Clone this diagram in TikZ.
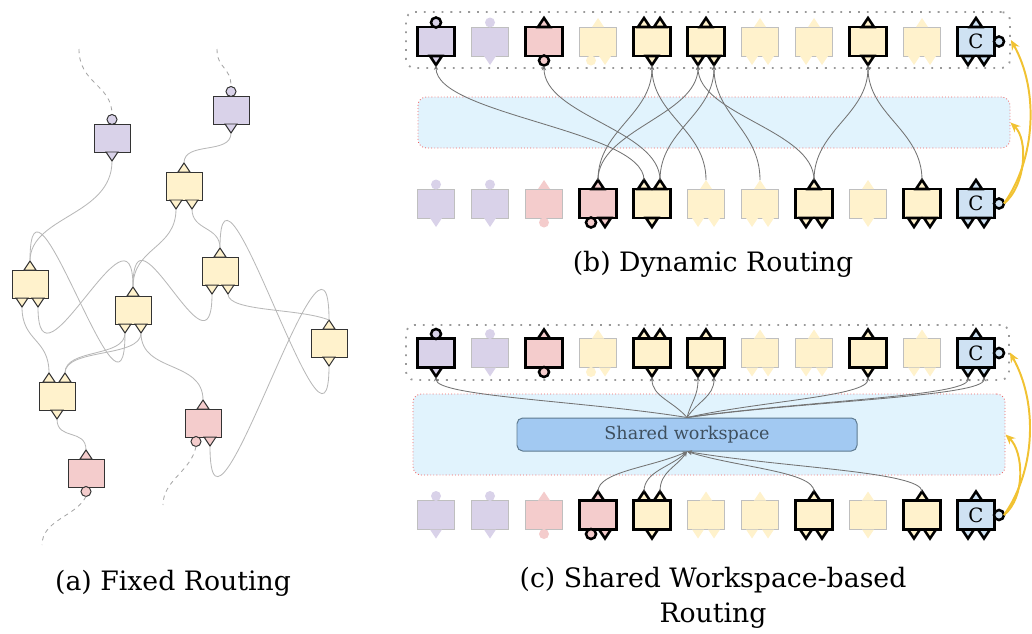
\documentclass[tikz,border=0pt]{standalone}
\usepackage{fontspec}
\setmainfont{DejaVu Serif}
\usetikzlibrary{arrows.meta,calc,positioning}

\definecolor{pur}{HTML}{D9D2E9}
\definecolor{pnk}{HTML}{F4CCCC}
\definecolor{ylw}{HTML}{FFF2CC}
\definecolor{cbl}{HTML}{CFE2F3}
\definecolor{sky}{HTML}{E1F3FD}
\definecolor{wsfill}{HTML}{A2C9F2}
\definecolor{wsline}{HTML}{5E7A90}
\definecolor{wstext}{HTML}{3E4F5E}
\definecolor{gold}{HTML}{F1C232}
\definecolor{redot}{HTML}{F06060}

\def\px{0.025cm} % one pixel of the layout

\tikzset{
blk/.style={inner sep=0pt, outer sep=0pt},
lkthin/.style={draw=black!80, line width=0.7pt, minimum width=36*\px, minimum height=28*\px},
lkthin port/.style={draw=black!80, line width=0.7pt},
lkbold/.style={draw=black, line width=1.8pt, minimum width=37*\px, minimum height=29*\px},
lkbold port/.style={draw=black, line width=1.8pt},
lkfade/.style={draw=black!25, line width=0.7pt, minimum width=37*\px, minimum height=29*\px},
lkfade port/.style={draw=none},
wire/.style={draw=black!28, line width=0.6pt},
tail/.style={draw=black!35, dashed, line width=0.6pt},
bedge/.style={draw=black!55, line width=0.6pt, -{Stealth[length=3.5pt,width=3pt]}},
gtray/.style={draw=black!40, line width=1.3pt, dash pattern=on 1.3pt off 5pt, rounded corners=6pt, inner sep=0pt},
skybox/.style={fill=sky, draw=redot, line width=0.6pt, dash pattern=on 0.6pt off 1.6pt, rounded corners=6pt, inner sep=0pt},
wsbox/.style={fill=wsfill, draw=wsline, line width=0.7pt, rounded corners=4pt, text=wstext, font=\fontsize{12.5}{14}\selectfont},
garrow/.style={draw=gold, line width=1.4pt, -{Stealth[length=7pt,width=6pt]}},
ctext/.style={font=\fontsize{14}{14}\selectfont},
captext/.style={font=\fontsize{19}{25}\selectfont}
}

% ports: block, shift, name
\newcommand\portup[3]{\draw[port] ($(#1.north)+(#2,0)$) ++(-6,0) -- ++(6,-9) coordinate (#3) -- ++(6,9) -- cycle;}
\newcommand\portdn[3]{\draw[port] ($(#1.south)+(#2,0)$) ++(-6,0) -- ++(6,9) coordinate (#3) -- ++(6,-9) -- cycle;}
\newcommand\portcu[3]{\path ($(#1.north)+(#2,-4.5)$) coordinate (#3c) ++(0,-5) coordinate (#3);
  \draw[port] (#3c) circle[radius=5];}
\newcommand\portcd[3]{\path ($(#1.south)+(#2,4.5)$) coordinate (#3c) ++(0,5) coordinate (#3);
  \draw[port] (#3c) circle[radius=5];}
\newcommand\portcr[2]{\path ($(#1.east)+(4.5,0)$) coordinate (#2c) ++(5,0) coordinate (#2);
  \draw[port] (#2c) circle[radius=5];}

% kinds of module
\newcommand\kindcu[1]{\portcu{#1}{0}{#1-i1}\portdn{#1}{0}{#1-o1}}
\newcommand\kindpk[1]{\portup{#1}{0}{#1-i1}\portcd{#1}{0}{#1-o1}}
\newcommand\kindpc[1]{\portup{#1}{0}{#1-i1}\portcd{#1}{-7}{#1-o1}\portdn{#1}{7}{#1-o2}}
\newcommand\kindyd[1]{\portup{#1}{-8}{#1-i1}\portup{#1}{8}{#1-i2}\portdn{#1}{0}{#1-o1}}
\newcommand\kindys[1]{\portup{#1}{0}{#1-i1}\portdn{#1}{-8}{#1-o1}\portdn{#1}{8}{#1-o2}}
\newcommand\kindym[1]{\portup{#1}{0}{#1-i1}\portdn{#1}{0}{#1-o1}}
\newcommand\kindcc[1]{\kindys{#1}\portcr{#1}{#1-r}\node[ctext] (#1-t) at (#1) {C};}

% module: name, x, y, kind, colour, look
\newcommand\mblk[6]{%
  \node[blk, #6, fill=#5] (#1) at (#2,#3) {};
  \tikzset{port/.estyle={#6 port, fill=#5}}%
  \csname kind#4\endcsname{#1}}

\def\toprow{0/cu/pur/lkbold,1/cu/pur/lkfade,2/pk/pnk/lkbold,3/pc/ylw/lkfade,4/yd/ylw/lkbold,5/ys/ylw/lkbold,6/ys/ylw/lkfade,7/ys/ylw/lkfade,8/ym/ylw/lkbold,9/ys/ylw/lkfade,10/cc/cbl/lkbold}
\def\botrow{0/cu/pur/lkfade,1/cu/pur/lkfade,2/pk/pnk/lkfade,3/pc/pnk/lkbold,4/yd/ylw/lkbold,5/ys/ylw/lkfade,6/ys/ylw/lkfade,7/ys/ylw/lkbold,8/ym/ylw/lkfade,9/ys/ylw/lkbold,10/cc/cbl/lkbold}

\begin{document}
\begin{tikzpicture}[x=\px, y=-\px]
\useasboundingbox (0,0) rectangle (1032,633);

% (a) fixed routing
\mblk{pu1}{112}{138}{cu}{pur}{lkthin}
\mblk{pu2}{231}{110}{cu}{pur}{lkthin}
\mblk{y1}{184}{186}{ys}{ylw}{lkthin}
\mblk{y2}{30}{284}{ys}{ylw}{lkthin}
\mblk{y3}{133}{310}{ys}{ylw}{lkthin}
\mblk{y4}{220}{271}{ys}{ylw}{lkthin}
\mblk{y5}{329}{343}{ym}{ylw}{lkthin}
\mblk{y6}{57}{396}{yd}{ylw}{lkthin}
\mblk{pk1}{203}{423}{pc}{pnk}{lkthin}
\mblk{pk2}{86}{473}{pk}{pnk}{lkthin}

\draw[wire] (pu1-o1) .. controls +(0,55) and +(0,-45) .. (y2-i1);
\draw[wire] (pu2-o1) .. controls +(0,22) and +(0,-22) .. (y1-i1);
\draw[wire] (y1-o1) .. controls +(0,40) and +(0,-40) .. (y3-i1);
\draw[wire] (y1-o2) .. controls +(0,22) and +(0,-22) .. (y4-i1);
\draw[wire] (y2-o1) .. controls +(0,35) and +(0,-35) .. (y6-i1);
\draw[wire] (y2-o2) .. controls +(0,98) and +(0,-98) .. (y3-i1);
\draw[wire] (y3-o1) .. controls +(0,124) and +(0,-124) .. (y2-i1);
\draw[wire] (y3-o1) .. controls +(0,25) and +(0,-25) .. (y6-i2);
\draw[wire] (y3-o2) .. controls +(0,25) and +(0,-25) .. (y6-i2);
\draw[wire] (y3-o2) .. controls +(0,40) and +(0,-40) .. (pk1-i1);
\draw[wire] (y4-o1) .. controls +(0,95) and +(0,-95) .. (y3-i1);
\draw[wire] (y4-o2) .. controls +(0,18) and +(-30,-12) .. (y5-i1);
\draw[wire] (y5-o1) .. controls +(0,130) and +(0,-130) .. (y4-i1);
\draw[wire] (pk1-o2) .. controls +(0,143) and +(0,-143) .. (y5-i1);
\draw[wire] (y6-o1) .. controls +(0,22) and +(0,-22) .. (pk2-i1);

\coordinate (ta1) at (79,49);
\coordinate (ta2) at (217,49);
\coordinate (ta3) at (42,545);
\coordinate (ta4) at (163,505);
\draw[tail] (ta1) .. controls +(0,35) and +(0,-30) .. (pu1-i1);
\draw[tail] (ta2) .. controls +(0,20) and +(0,-20) .. (pu2-i1);
\draw[tail] (pk2-o1) .. controls +(-10,20) and +(0,-25) .. (ta3);
\draw[tail] (pk1-o1) .. controls +(-5,25) and +(0,-25) .. (ta4);

\node[captext] (capa) at (173,583) {(a) Fixed Routing};

% (b) dynamic routing
\node[gtray, minimum width=604*\px, minimum height=56*\px] (btray) at (708,40) {};
\node[skybox, minimum width=592*\px, minimum height=51*\px] (bsky) at (714,122.5) {};
\foreach \i/\k/\c/\l in \toprow {\mblk{bt\i}{436+54*\i}{41.5}{\k}{\c}{\l}}
\foreach \i/\k/\c/\l in \botrow {\mblk{bb\i}{436+54*\i}{203.5}{\k}{\c}{\l}}

\foreach \s/\t in {bb4-i1/bt0-o1, bb4-i2/bt2-o1, bb3-i1/bt4-o1, bb3-i1/bt5-o1, bb5-i1/bt4-o1,
  bb4-i2/bt5-o2, bb6-i1/bt5-o2, bb7-i1/bt5-o1, bb7-i1/bt8-o1, bb9-i1/bt8-o1}
  \draw[bedge] (\s) .. controls +(0,-50) and +(0,50) .. (\t);

\draw[garrow] (bb10-r) .. controls +(22,-18) and +(18,17) .. (bsky.east);
\draw[garrow] (bb10-r) .. controls +(32,-45) and +(28,50) .. (btray.east);

\node[captext] (capb) at (713,264) {(b) Dynamic Routing};

% (c) shared workspace-based routing
\node[gtray, minimum width=603*\px, minimum height=55*\px] (ctray) at (707.5,352.5) {};
\node[skybox, minimum width=592*\px, minimum height=81*\px] (csky) at (709,434.5) {};
\node[wsbox, minimum width=340*\px, minimum height=33*\px] (ws) at (687,434.5) {Shared workspace};
\foreach \i/\k/\c/\l in \toprow {\mblk{ct\i}{436+54*\i}{353}{\k}{\c}{\l}}
\foreach \i/\k/\c/\l in \botrow {\mblk{cb\i}{436+54*\i}{515}{\k}{\c}{\l}}

\foreach \t in {ct0-o1, ct4-o1, ct5-o1, ct5-o2, ct8-o1, ct10-o1, ct10-o2}
  \draw[bedge] (ws.north) .. controls ($(ws.north)!.4!(\t)$) and +(0,20) .. (\t);
\foreach \s in {cb3-i1, cb4-i1, cb4-i2, cb7-i1, cb9-i1}
  \draw[bedge] (\s) .. controls +(0,-20) and ($(ws.south)!.4!(\s)$) .. (ws.south);

\draw[garrow] (cb10-r) .. controls +(22,-18) and +(18,17) .. (csky.east);
\draw[garrow] (cb10-r) .. controls +(32,-45) and +(28,50) .. (ctray.east);

\node[captext, align=center] (capc) at (713,598) {(c) Shared Workspace-based\\Routing};
\end{tikzpicture}
\end{document}
